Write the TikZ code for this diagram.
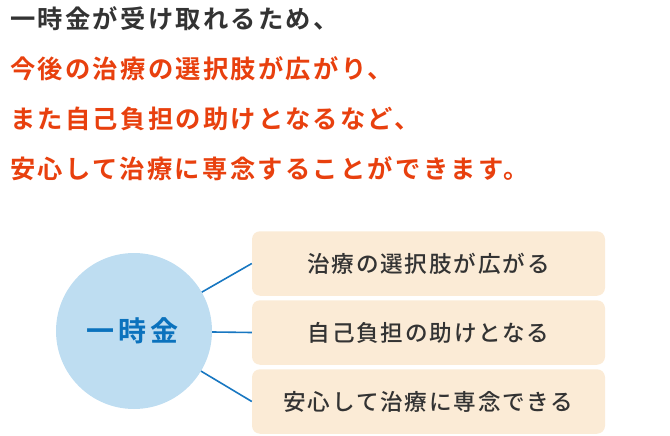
\documentclass[tikz,border=0pt]{standalone}
\usepackage{fontspec}
\setmainfont{Noto Sans CJK JP}[BoldFont={Noto Sans CJK JP Bold}]
\newfontfamily\titlefont{Noto Sans CJK JP Bold}[LetterSpace=9]
\newfontfamily\boxfont{Noto Sans CJK JP Medium}[LetterSpace=8]
\newfontfamily\circfont{Noto Sans CJK JP Bold}[LetterSpace=16]
\definecolor{tgrey}{HTML}{333333}
\definecolor{tred}{HTML}{E8400E}
\definecolor{cfill}{HTML}{BEDDF1}
\definecolor{cblue}{HTML}{0B72BD}
\definecolor{bfill}{HTML}{FBEBD6}
\definecolor{bline}{HTML}{1877C1}
\begin{document}
\begin{tikzpicture}[x=1pt,y=-1pt,
  titleline/.style={anchor=west, inner sep=0pt, font=\titlefont\fontsize{25.3}{25.3}\selectfont, text height=22.2pt, text depth=3.1pt},
  hub/.style={circle, fill=cfill, minimum size=156pt, inner sep=0pt, text=cblue, font=\circfont\fontsize{28}{28}\selectfont},
  item/.style={rectangle, rounded corners=8pt, fill=bfill, minimum width=353pt, minimum height=64.5pt, inner sep=0pt, text=tgrey, font=\boxfont\fontsize{22.6}{22.6}\selectfont},
  conn/.style={draw=bline, line width=1.6pt}]
\useasboundingbox (0,0) rectangle (670,436);
\node[titleline, text=tgrey] (t1) at (10,19) {一時金が受け取れるため、};
\node[titleline, text=tred] (t2) at (10,69) {今後の治療の選択肢が広がり、};
\node[titleline, text=tred] (t3) at (10,119) {また自己負担の助けとなるなど、};
\node[titleline, text=tred] (t4) at (10,168.5) {安心して治療に専念することができます。};
\node[hub] (c) at (134,331) {\hspace*{-3pt}一時金};
\node[item] (b1) at (428.5,263.5) {治療の選択肢が広がる};
\node[item] (b2) at (428.5,332.5) {自己負担の助けとなる};
\node[item] (b3) at (428.5,401.5) {安心して治療に専念できる};
\draw[conn] (c) -- (b1.west);
\draw[conn] (c) -- (b2.west);
\draw[conn] (c) -- (b3.west);
\end{tikzpicture}
\end{document}
